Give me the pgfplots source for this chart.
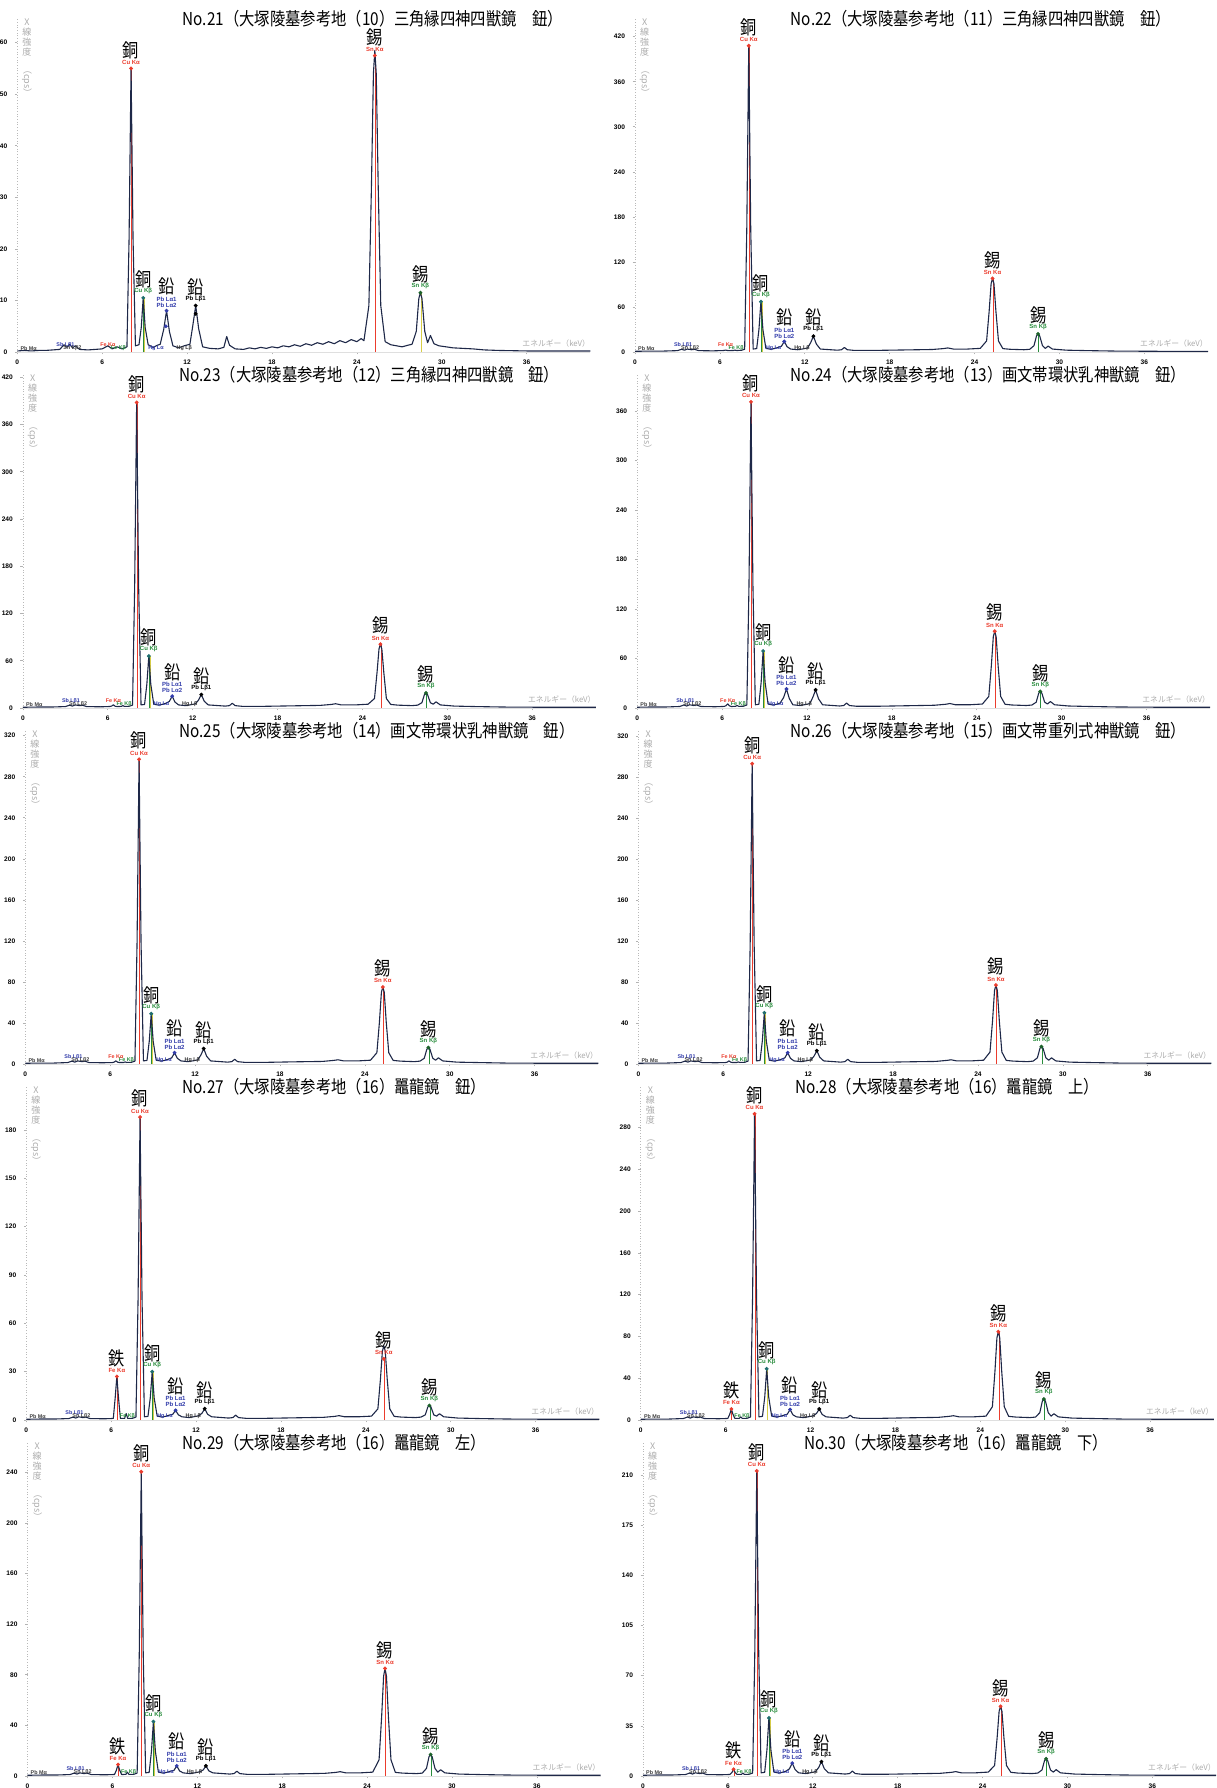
\documentclass[border=0pt]{standalone}
\usepackage{fontspec}
\usepackage{graphicx}
\usepackage{pgfplots}
\pgfplotsset{compat=1.18}
\setmainfont{Liberation Sans}
\newfontfamily\jp{Noto Sans CJK JP}
\newfontfamily\jpc[FakeStretch=0.86]{Noto Sans CJK JP}
\newcommand{\ttl}{\jpc\fontsize{8.9}{9}\selectfont}
\newcommand{\biglab}{\jpc\fontsize{9.4}{9.5}\selectfont}
\newcommand{\smlab}{\fontsize{3}{3.1}\selectfont\bfseries}
\newcommand{\tinylab}{\fontsize{2.7}{2.8}\selectfont\bfseries}
\definecolor{specc}{RGB}{30,40,72}
\definecolor{kared}{RGB}{235,60,45}
\definecolor{kbgreen}{RGB}{40,140,60}
\definecolor{pbblue}{RGB}{50,60,170}
\definecolor{teal2}{RGB}{30,110,110}
\definecolor{ylw}{RGB}{215,205,70}
\pgfplotsset{xrf/.style={anchor=south west, width=286.5pt, height=166.5pt, scale only axis,
  xmin=0, xmax=40.5, ymin=0, clip=false,
  axis x line*=bottom, axis y line*=left, axis line style={-},
  x axis line style={draw=gray!25, line width=0.3pt},
  y axis line style={draw=gray!55, line width=0.35pt, densely dotted},
  xtick={0,6,12,18,24,30,36}, tick style={draw=gray!60, line width=0.3pt},
  major tick length=1.2pt, tick align=outside,
  tick label style={font=\fontsize{3.3}{3.5}\selectfont\bfseries},
  /pgf/number format/assume math mode=true,
  xticklabel style={yshift=0.6pt}, yticklabel style={xshift=-0.3pt}},
  spl/.style={color=specc, line width=0.55pt, line join=round}}
\newcommand{\vl}[3]{\addplot[#1, line width=0.45pt, forget plot] coordinates {(#2,0) (#2,#3)};}
\newcommand{\dt}[3]{\addplot[#1, only marks, mark=*, mark size=0.75pt, forget plot] coordinates {(#2,#3)};}
\newcommand{\lab}[5]{\node[anchor=south, inner sep=0pt, yshift=1.8pt, text=#1, font=\smlab] at (axis cs:#2,#3) {#4};
  \node[anchor=south, inner sep=0pt, yshift=4.7pt, font=\biglab] at (axis cs:#2,#3) {#5};}
\newcommand{\pblab}[6]{\node[anchor=south, inner sep=0pt, yshift=1.5pt, text=#1, font=\smlab] at (axis cs:#2,#3) {#5};
  \node[anchor=south, inner sep=0pt, yshift=4.5pt, text=#1, font=\smlab] at (axis cs:#2,#3) {#4};
  \node[anchor=south, inner sep=0pt, yshift=7.5pt, font=\biglab] at (axis cs:#2,#3) {#6};}
\newcommand{\vlines}[4]{\vl{kared}{8.08}{#1}\vl{kbgreen}{8.93}{#2}\vl{ylw}{8.98}{#2}\vl{kared}{25.32}{#3}\vl{kbgreen}{28.53}{#4}}
\newcommand{\deco}[7]{%
  \dt{kared}{8.04}{#1}\lab{kared}{8.04}{#1}{Cu Kα}{銅}
  \dt{teal2}{8.9}{#2}\lab{kbgreen}{8.9}{#2}{Cu Kβ}{銅}
  \dt{pbblue}{10.55}{#3}\pblab{pbblue}{10.55}{#3}{Pb Lα1}{Pb Lα2}{鉛}
  \dt{black}{12.61}{#4}\lab{black}{12.61}{#4}{Pb Lβ1}{鉛}
  \dt{kared}{25.27}{#7}\lab{kared}{25.27}{#5}{Sn Kα}{錫}
  \dt{kbgreen!70!black}{28.49}{#6}\lab{kbgreen}{28.49}{#6}{Sn Kβ}{錫}}
\newcommand{\common}{%
  \node[anchor=north west, inner sep=0pt, xshift=2.2pt, text=gray!65, font=\jp\fontsize{4.5}{4.9}\selectfont, align=center] at (rel axis cs:0,1) {X\\線\\強\\度\\\rotatebox{-90}{（cps）}};
  \node[anchor=south east, inner sep=0pt, yshift=2.2pt, text=gray!65, font=\jp\fontsize{3.9}{4}\selectfont] at (rel axis cs:1,0) {エネルギー（keV）};
  \node[anchor=south west, inner sep=0pt, yshift=0.6pt, font=\tinylab, text=black!75] at (axis cs:0.2,0) {Pb Mα};
  \node[anchor=south, inner sep=0pt, yshift=1.9pt, font=\tinylab, text=pbblue] at (axis cs:3.4,0) {Sb Lβ1};
  \node[anchor=south, inner sep=0pt, yshift=0.5pt, font=\tinylab, text=black!75] at (axis cs:3.9,0) {Sn Lβ2};
  \node[anchor=south, inner sep=0pt, yshift=0.5pt, font=\tinylab, text=pbblue] at (axis cs:9.8,0) {Hg Lα};
  \node[anchor=south, inner sep=0pt, yshift=0.5pt, font=\tinylab, text=black!80] at (axis cs:11.8,0) {Hg Lβ};
  \node[anchor=south, inner sep=0pt, yshift=0.6pt, font=\tinylab, text=kbgreen] at (axis cs:7.15,0) {Fe Kβ};}
\newcommand{\fesmall}{\node[anchor=south, inner sep=0pt, yshift=2.4pt, font=\tinylab, text=kared] at (axis cs:6.4,0) {Fe Kα};}
\newcommand{\fe}[1]{\dt{kared}{6.4}{#1}\lab{kared}{6.4}{#1}{Fe Kα}{鉄}}
\begin{document}
\begin{tikzpicture}
\useasboundingbox (0,0) rectangle (608pt,894pt);
% ---------- No.21
\begin{axis}[xrf, at={(8.65pt,718pt)}, ymax=64.6, ytick={0,10,...,60}]
\vlines{55}{10.5}{57.5}{11.5}
\vl{ylw}{28.6}{11.5}
\addplot[spl] coordinates {(0,0.2)(0.5,0.3)(1,0.2)(1.5,0.3)(2,0.3)(2.5,0.4)(3,0.5)(3.3,1.4)(3.5,0.9)(3.7,1.5)(3.9,0.8)(4.1,1.2)(4.4,0.5)(5,0.4)(5.5,0.5)(6.0,0.6)(6.4,1.2)(6.7,0.6)(7.06,1.0)(7.4,0.6)(7.75,1.0)(7.9,22)(8.04,55)(8.18,22)(8.35,1.2)(8.6,1.4)(8.76,4.7)(8.9,10.5)(9.04,4.7)(9.25,1.4)(9.6,0.9)(9.9,1.3)(10.1,1.5)(10.35,4.4)(10.55,8)(10.75,4)(11.0,1.2)(11.4,0.8)(11.8,1.2)(12.2,1.5)(12.42,5.4)(12.61,9)(12.82,4.5)(13.1,1.0)(13.6,0.7)(14.2,0.6)(14.6,0.9)(14.8,3.0)(15.0,1.3)(15.4,0.6)(16.0,0.5)(16.4,0.8)(16.8,0.6)(17.2,0.9)(17.6,0.7)(18.0,1.0)(18.4,0.8)(18.8,1.2)(19.2,1.0)(19.6,1.4)(20.0,1.1)(20.4,1.6)(20.8,1.3)(21.2,1.8)(21.6,1.5)(22.0,2.0)(22.4,1.6)(22.8,2.2)(23.2,1.8)(23.6,2.4)(24.0,2.0)(24.3,2.6)(24.5,2.2)(24.85,9)(25.03,32)(25.17,54)(25.27,58.5)(25.37,54)(25.51,32)(25.69,9)(26.0,2.0)(26.4,1.4)(26.8,1.2)(27.2,1.0)(27.6,1.3)(27.9,1.5)(28.2,4.0)(28.38,10.4)(28.49,11.5)(28.6,10.4)(28.8,4.0)(29.0,1.8)(29.2,3.2)(29.45,1.6)(29.8,1.2)(30.3,1.0)(30.8,0.8)(31.5,0.7)(32.2,0.6)(33,0.4)(34,0.3)(36,0.2)(40.5,0.2)};
\dt{pbblue}{10.5}{5}\dt{black}{12.61}{7.4}
\deco{55}{10.5}{8}{9}{57.5}{11.5}{57.5}
\common\fesmall
\end{axis}
% ---------- No.22
\begin{axis}[xrf, at={(317.5pt,718pt)}, ymax=443.6, ytick={0,60,...,420}]
\vlines{408}{67}{98}{24}
\addplot[spl] coordinates {(0,0.9)(1,1.2)(2,1.2)(3,1.8)(3.3,3.6)(3.5,2.4)(3.7,3.9)(4.0,3)(4.2,3.6)(4.5,1.8)(5.5,1.5)(6.0,1.8)(6.15,1.8)(6.28,2)(6.40,2.5)(6.52,2)(6.65,1.8)(6.95,2)(7.06,2.5)(7.17,2)(7.5,2.1)(7.75,3.6)(7.9,163)(8.04,408)(8.18,163)(8.35,3.9)(8.6,4.5)(8.76,30)(8.9,67)(9.04,30)(9.25,4.8)(9.6,3.6)(9.9,4.8)(10.1,6)(10.35,7.7)(10.55,14)(10.75,7)(11.0,3.9)(11.5,3)(11.9,4.2)(12.2,5.4)(12.42,12.6)(12.61,21)(12.82,10.5)(13.1,3.9)(14.3,2.4)(14.6,3)(14.8,6)(15.0,3)(15.5,2.1)(17,2.1)(19,2.7)(21,3.3)(21.8,4.5)(22.1,5.4)(22.5,3.9)(23.5,3.9)(24.4,4.8)(24.85,14.7)(25.03,54)(25.17,91)(25.27,98)(25.37,91)(25.51,54)(25.69,14.7)(26.0,4.5)(26.5,3.6)(27.5,3)(27.9,3.6)(28.2,8.4)(28.38,21.6)(28.49,24)(28.6,21.6)(28.8,8.4)(29.0,4.8)(29.2,7.8)(29.5,3.9)(30.5,2.4)(32,1.8)(34,1.2)(37,0.9)(40.5,0.9)};
\deco{408}{67}{14}{21}{98}{24}{98}
\common\fesmall
\end{axis}
% ---------- No.23
\begin{axis}[xrf, at={(11.45pt,540pt)}, ymax=422.9, ytick={0,60,...,420}]
\vlines{388}{66}{81}{19}
\addplot[spl] coordinates {(0,0.9)(1,1.2)(2,1.2)(3,1.8)(3.3,3.6)(3.5,2.4)(3.7,3.9)(4.0,3)(4.2,3.6)(4.5,1.8)(5.5,1.5)(6.0,1.8)(6.15,1.9)(6.28,2.5)(6.40,4)(6.52,2.2)(6.65,1.8)(6.95,2)(7.06,3)(7.17,2)(7.5,2.1)(7.75,3.6)(7.9,155)(8.04,388)(8.18,155)(8.35,3.9)(8.6,4.5)(8.76,30)(8.9,66)(9.04,30)(9.25,4.8)(9.6,3.6)(9.9,4.8)(10.1,6)(10.35,8.3)(10.55,15)(10.75,7.5)(11.0,3.9)(11.5,3)(11.9,4.2)(12.2,5.4)(12.42,10.2)(12.61,17)(12.82,8.5)(13.1,3.9)(14.3,2.4)(14.6,3)(14.8,6)(15.0,3)(15.5,2.1)(17,2.1)(19,2.7)(21,3.3)(21.8,4.5)(22.1,5.4)(22.5,3.9)(23.5,3.9)(24.4,4.8)(24.85,12)(25.03,45)(25.17,75)(25.27,81)(25.37,75)(25.51,45)(25.69,12)(26.0,4.5)(26.5,3.6)(27.5,3)(27.9,3.6)(28.2,6.7)(28.38,17)(28.49,19)(28.6,17)(28.8,6.7)(29.0,4.8)(29.2,7.8)(29.5,3.9)(30.5,2.4)(32,1.8)(34,1.2)(37,0.9)(40.5,0.9)};
\deco{388}{66}{15}{17}{81}{19}{81}
\common\fesmall
\end{axis}
% ---------- No.24
\begin{axis}[xrf, at={(318.6pt,540pt)}, ymax=403.6, ytick={0,60,...,360}]
\vlines{371}{69}{93}{20}
\addplot[spl] coordinates {(0,0.9)(1,1.2)(2,1.2)(3,1.8)(3.3,3.6)(3.5,2.4)(3.7,3.9)(4.0,3)(4.2,3.6)(4.5,1.8)(5.5,1.5)(6.0,1.8)(6.15,1.9)(6.28,2.8)(6.40,5)(6.52,2.6)(6.65,1.8)(6.95,2)(7.06,3)(7.17,2)(7.5,2.1)(7.75,3.6)(7.9,148)(8.04,371)(8.18,148)(8.35,3.9)(8.6,4.5)(8.76,31)(8.9,69)(9.04,31)(9.25,4.8)(9.6,3.6)(9.9,4.8)(10.1,6)(10.35,12.7)(10.55,23)(10.75,11.5)(11.0,3.9)(11.5,3)(11.9,4.2)(12.2,5.4)(12.42,13.2)(12.61,22)(12.82,11)(13.1,3.9)(14.3,2.4)(14.6,3)(14.8,6)(15.0,3)(15.5,2.1)(17,2.1)(19,2.7)(21,3.3)(21.8,4.5)(22.1,5.4)(22.5,3.9)(23.5,3.9)(24.4,4.8)(24.85,14)(25.03,51)(25.17,86.5)(25.27,93)(25.37,86.5)(25.51,51)(25.69,14)(26.0,4.5)(26.5,3.6)(27.5,3)(27.9,3.6)(28.2,7)(28.38,18)(28.49,20)(28.6,18)(28.8,7)(29.0,4.8)(29.2,7.8)(29.5,3.9)(30.5,2.4)(32,1.8)(34,1.2)(37,0.9)(40.5,0.9)};
\deco{371}{69}{23}{22}{93}{20}{93}
\common\fesmall
\end{axis}
% ---------- No.25
\begin{axis}[xrf, at={(12.65pt,362pt)}, ymax=324.6, ytick={0,40,...,320}]
\vlines{297}{49}{75}{16}
\addplot[spl] coordinates {(0,0.7)(1,0.9)(2,0.9)(3,1.4)(3.3,2.8)(3.5,1.8)(3.7,3.0)(4.0,2.3)(4.2,2.8)(4.5,1.4)(5.5,1.2)(6.0,1.4)(6.15,1.4)(6.28,1.8)(6.40,3)(6.52,1.8)(6.65,1.4)(6.95,1.5)(7.06,2)(7.17,1.5)(7.5,1.6)(7.75,2.8)(7.9,119)(8.04,297)(8.18,119)(8.35,3.0)(8.6,3.5)(8.76,22)(8.9,49)(9.04,22)(9.25,3.7)(9.6,2.8)(9.9,3.7)(10.1,4.6)(10.35,6)(10.55,11)(10.75,5.5)(11.0,3.0)(11.5,2.3)(11.9,3.2)(12.2,4.1)(12.42,9)(12.61,15)(12.82,7.5)(13.1,3.0)(14.3,1.8)(14.6,2.3)(14.8,4.6)(15.0,2.3)(15.5,1.6)(17,1.6)(19,2.1)(21,2.5)(21.8,3.5)(22.1,4.1)(22.5,3.0)(23.5,3.0)(24.4,3.7)(24.85,11)(25.03,41)(25.17,70)(25.27,75)(25.37,70)(25.51,41)(25.69,11)(26.0,3.5)(26.5,2.8)(27.5,2.3)(27.9,2.8)(28.2,5.6)(28.38,14.4)(28.49,16)(28.6,14.4)(28.8,5.6)(29.0,3.7)(29.2,6.0)(29.5,3.0)(30.5,1.8)(32,1.4)(34,0.9)(37,0.7)(40.5,0.7)};
\deco{297}{49}{11}{15}{75}{16}{75}
\common\fesmall
\end{axis}
% ---------- No.26
\begin{axis}[xrf, at={(319.2pt,362pt)}, ymax=324.9, ytick={0,40,...,320}]
\vlines{293}{50}{77}{17}
\addplot[spl] coordinates {(0,0.7)(1,0.9)(2,0.9)(3,1.4)(3.3,2.8)(3.5,1.8)(3.7,3.0)(4.0,2.3)(4.2,2.8)(4.5,1.4)(5.5,1.2)(6.0,1.4)(6.15,1.4)(6.28,1.8)(6.40,3)(6.52,1.8)(6.65,1.4)(6.95,1.5)(7.06,2)(7.17,1.5)(7.5,1.6)(7.75,2.8)(7.9,117)(8.04,293)(8.18,117)(8.35,3.0)(8.6,3.5)(8.76,22.5)(8.9,50)(9.04,22.5)(9.25,3.7)(9.6,2.8)(9.9,3.7)(10.1,4.6)(10.35,6)(10.55,11)(10.75,5.5)(11.0,3.0)(11.5,2.3)(11.9,3.2)(12.2,4.1)(12.42,7.8)(12.61,13)(12.82,6.5)(13.1,3.0)(14.3,1.8)(14.6,2.3)(14.8,4.6)(15.0,2.3)(15.5,1.6)(17,1.6)(19,2.1)(21,2.5)(21.8,3.5)(22.1,4.1)(22.5,3.0)(23.5,3.0)(24.4,3.7)(24.85,11.6)(25.03,42)(25.17,71.6)(25.27,77)(25.37,71.6)(25.51,42)(25.69,11.6)(26.0,3.5)(26.5,2.8)(27.5,2.3)(27.9,2.8)(28.2,6)(28.38,15.3)(28.49,17)(28.6,15.3)(28.8,6)(29.0,3.7)(29.2,6.0)(29.5,3.0)(30.5,1.8)(32,1.4)(34,0.9)(37,0.7)(40.5,0.7)};
\deco{293}{50}{11}{13}{77}{17}{77}
\common\fesmall
\end{axis}
% ---------- No.27
\begin{axis}[xrf, at={(13.15pt,184pt)}, ymax=206.7, ytick={0,30,...,180}]
\vlines{188}{30}{38}{9}
\vl{kared}{6.43}{27}
\addplot[spl] coordinates {(0,0.45)(1,0.6)(2,0.6)(3,0.9)(3.3,1.8)(3.5,1.2)(3.7,2.0)(4.0,1.5)(4.2,1.8)(4.5,0.9)(5.5,0.75)(6.0,0.9)(6.15,1.0)(6.28,13.5)(6.40,27)(6.52,13.5)(6.65,1.0)(6.95,1.0)(7.06,4)(7.17,1.0)(7.5,1.05)(7.75,1.8)(7.9,75)(8.04,188)(8.18,75)(8.35,2.0)(8.6,2.25)(8.76,13.5)(8.9,30)(9.04,13.5)(9.25,2.4)(9.6,1.8)(9.9,2.4)(10.1,3)(10.35,3.5)(10.55,6)(10.75,3.2)(11.0,2.0)(11.5,1.5)(11.9,2.1)(12.2,2.7)(12.42,4.2)(12.61,7)(12.82,3.5)(13.1,2.0)(14.3,1.2)(14.6,1.5)(14.8,3)(15.0,1.5)(15.5,1.05)(17,1.05)(19,1.35)(21,1.65)(21.8,2.25)(22.1,2.7)(22.5,2.0)(23.5,2.0)(24.4,2.4)(24.85,6.9)(25.03,25.3)(25.17,42.8)(25.27,46)(25.37,42.8)(25.51,25.3)(25.69,6.9)(26.0,2.25)(26.5,1.8)(27.5,1.5)(27.9,1.8)(28.2,3.2)(28.38,8.1)(28.49,9)(28.6,8.1)(28.8,3.2)(29.0,2.4)(29.2,3.9)(29.5,2.0)(30.5,1.2)(32,0.9)(34,0.6)(37,0.45)(40.5,0.45)};
\deco{188}{30}{6}{7}{38}{9}{38}
\fe{27}
\common
\end{axis}
% ---------- No.28
\begin{axis}[xrf, at={(320.4pt,184pt)}, ymax=318.7, ytick={0,40,...,280}]
\vlines{293}{49}{84.5}{20}
\vl{kared}{6.43}{10.5}
\addplot[spl] coordinates {(0,0.7)(1,0.9)(2,0.9)(3,1.4)(3.3,2.8)(3.5,1.8)(3.7,3.0)(4.0,2.3)(4.2,2.8)(4.5,1.4)(5.5,1.2)(6.0,1.4)(6.15,1.5)(6.28,5.25)(6.40,10.5)(6.52,5.25)(6.65,1.5)(6.95,1.5)(7.06,3)(7.17,1.5)(7.5,1.6)(7.75,2.8)(7.9,117)(8.04,293)(8.18,117)(8.35,3.0)(8.6,3.5)(8.76,22)(8.9,49)(9.04,22)(9.25,3.7)(9.6,2.8)(9.9,3.7)(10.1,4.6)(10.35,5.5)(10.55,10)(10.75,5)(11.0,3.0)(11.5,2.3)(11.9,3.2)(12.2,4.1)(12.42,6.3)(12.61,10.5)(12.82,5.3)(13.1,3.0)(14.3,1.8)(14.6,2.3)(14.8,4.6)(15.0,2.3)(15.5,1.6)(17,1.6)(19,2.1)(21,2.5)(21.8,3.5)(22.1,4.1)(22.5,3.0)(23.5,3.0)(24.4,3.7)(24.85,12.7)(25.03,46.5)(25.17,78.6)(25.27,84.5)(25.37,78.6)(25.51,46.5)(25.69,12.7)(26.0,3.5)(26.5,2.8)(27.5,2.3)(27.9,2.8)(28.2,7)(28.38,18)(28.49,20)(28.6,18)(28.8,7)(29.0,3.7)(29.2,6.0)(29.5,3.0)(30.5,1.8)(32,1.4)(34,0.9)(37,0.7)(40.5,0.7)};
\deco{293}{49}{10}{10.5}{84.5}{20}{84.5}
\fe{10.5}
\common
\end{axis}
% ---------- No.29
\begin{axis}[xrf, at={(13.75pt,6pt)}, ymax=263.2, ytick={0,40,...,240}]
\vlines{240.5}{43}{85}{17}
\vl{kared}{6.43}{9}
\addplot[spl] coordinates {(0,0.57)(1,0.76)(2,0.76)(3,1.14)(3.3,2.28)(3.5,1.52)(3.7,2.47)(4.0,1.9)(4.2,2.28)(4.5,1.14)(5.5,0.95)(6.0,1.14)(6.15,1.2)(6.28,4.5)(6.40,9)(6.52,4.5)(6.65,1.2)(6.95,1.25)(7.06,3)(7.17,1.25)(7.5,1.33)(7.75,2.28)(7.9,96)(8.04,240.5)(8.18,96)(8.35,2.47)(8.6,2.85)(8.76,19.4)(8.9,43)(9.04,19.4)(9.25,3.04)(9.6,2.28)(9.9,3.04)(10.1,3.8)(10.35,4.4)(10.55,8)(10.75,4)(11.0,2.47)(11.5,1.9)(11.9,2.66)(12.2,3.42)(12.42,4.8)(12.61,8)(12.82,4)(13.1,2.47)(14.3,1.52)(14.6,1.9)(14.8,3.8)(15.0,1.9)(15.5,1.33)(17,1.33)(19,1.71)(21,2.09)(21.8,2.85)(22.1,3.42)(22.5,2.47)(23.5,2.47)(24.4,3.04)(24.85,12.8)(25.03,46.8)(25.17,79)(25.27,85)(25.37,79)(25.51,46.8)(25.69,12.8)(26.0,2.85)(26.5,2.28)(27.5,1.9)(27.9,2.28)(28.2,6)(28.38,15.3)(28.49,17)(28.6,15.3)(28.8,6)(29.0,3.04)(29.2,4.94)(29.5,2.47)(30.5,1.52)(32,1.14)(34,0.76)(37,0.57)(40.5,0.57)};
\deco{240.5}{43}{8}{8}{85}{17}{85}
\fe{9}
\common
\end{axis}
% ---------- No.30
\begin{axis}[xrf, at={(321.5pt,6pt)}, ymax=232.3, ytick={0,35,...,210}]
\vlines{212.8}{40.5}{48.6}{12}
\vl{kared}{6.43}{4.7}
\addplot[spl] coordinates {(0,0.51)(1,0.68)(2,0.68)(3,1.02)(3.3,2.04)(3.5,1.36)(3.7,2.21)(4.0,1.7)(4.2,2.04)(4.5,1.02)(5.5,0.85)(6.0,1.02)(6.15,1.1)(6.28,2.4)(6.40,4.7)(6.52,2.4)(6.65,1.1)(6.95,1.1)(7.06,2)(7.17,1.1)(7.5,1.19)(7.75,2.04)(7.9,85)(8.04,212.8)(8.18,85)(8.35,2.21)(8.6,2.55)(8.76,18.2)(8.9,40.5)(9.04,18.2)(9.25,2.72)(9.6,2.04)(9.9,2.72)(10.1,3.4)(10.35,5)(10.55,9)(10.75,4.5)(11.0,2.21)(11.5,1.7)(11.9,2.38)(12.2,3.06)(12.42,6)(12.61,10)(12.82,5)(13.1,2.21)(14.3,1.36)(14.6,1.7)(14.8,3.4)(15.0,1.7)(15.5,1.19)(17,1.19)(19,1.53)(21,1.87)(21.8,2.55)(22.1,3.06)(22.5,2.21)(23.5,2.21)(24.4,2.72)(24.85,7.3)(25.03,26.7)(25.17,45.2)(25.27,48.6)(25.37,45.2)(25.51,26.7)(25.69,7.3)(26.0,2.55)(26.5,2.04)(27.5,1.7)(27.9,2.04)(28.2,4.2)(28.38,10.8)(28.49,12)(28.6,10.8)(28.8,4.2)(29.0,2.72)(29.2,4.42)(29.5,2.21)(30.5,1.36)(32,1.02)(34,0.68)(37,0.51)(40.5,0.51)};
\deco{212.8}{40.5}{9}{10}{48.6}{12}{48.6}
\fe{4.7}
\common
\end{axis}
% ---------- titles
\node[anchor=west, inner sep=0pt, font=\ttl] at (91.2pt,884.5pt) {No.21（大塚陵墓参考地（10）三角縁四神四獣鏡　鈕）};
\node[anchor=west, inner sep=0pt, font=\ttl] at (395.2pt,884.5pt) {No.22（大塚陵墓参考地（11）三角縁四神四獣鏡　鈕）};
\node[anchor=west, inner sep=0pt, font=\ttl] at (89.5pt,706.5pt) {No.23（大塚陵墓参考地（12）三角縁四神四獣鏡　鈕）};
\node[anchor=west, inner sep=0pt, font=\ttl] at (395.2pt,706.5pt) {No.24（大塚陵墓参考地（13）画文帯環状乳神獣鏡　鈕）};
\node[anchor=west, inner sep=0pt, font=\ttl] at (89.5pt,528.5pt) {No.25（大塚陵墓参考地（14）画文帯環状乳神獣鏡　鈕）};
\node[anchor=west, inner sep=0pt, font=\ttl] at (395.2pt,528.5pt) {No.26（大塚陵墓参考地（15）画文帯重列式神獣鏡　鈕）};
\node[anchor=west, inner sep=0pt, font=\ttl] at (91.2pt,350.5pt) {No.27（大塚陵墓参考地（16）鼉龍鏡　鈕）};
\node[anchor=west, inner sep=0pt, font=\ttl] at (397.5pt,350.5pt) {No.28（大塚陵墓参考地（16）鼉龍鏡　上）};
\node[anchor=west, inner sep=0pt, font=\ttl] at (91.2pt,172.5pt) {No.29（大塚陵墓参考地（16）鼉龍鏡　左）};
\node[anchor=west, inner sep=0pt, font=\ttl] at (402pt,172.5pt) {No.30（大塚陵墓参考地（16）鼉龍鏡　下）};
\end{tikzpicture}
\end{document}
